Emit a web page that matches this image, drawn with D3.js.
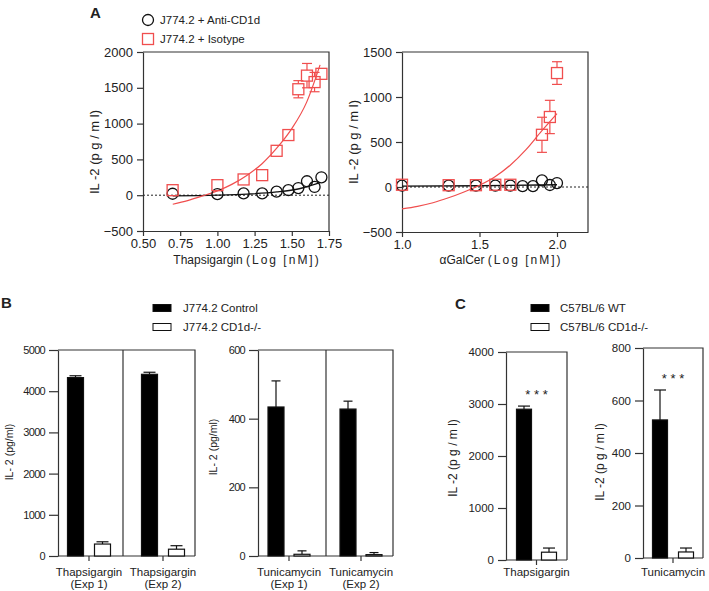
<!DOCTYPE html>
<html><head><meta charset="utf-8">
<script src="https://cdn.jsdelivr.net/npm/d3@7"></script>
<style>
body{margin:0;background:#fff;}
svg text{font-family: Arial, "Liberation Sans", Helvetica, sans-serif; fill:#222;}
</style></head><body>
<svg id="c" width="709" height="591"></svg>
<script>
// ---------- DATA ----------
// Panel A left: Thapsigargin (log nM)
const thapsLogDose     = [0.699, 1.000, 1.176, 1.301, 1.398, 1.477, 1.544, 1.602, 1.653, 1.699];
const thapsAntiCD1d    = [20, 15, 25, 25, 50, 70, 100, 195, 115, 250];
const thapsIsotype     = [70, 140, 220, 280, 620, 840, 1480, 1670, 1580, 1695];
const thapsIsotypeSem  = [0, 0, 0, 0, 60, 40, 120, 170, 135, 75];
const thapsIsoFitX     = [0.70, 0.80, 0.90, 1.00, 1.10, 1.20, 1.30, 1.40, 1.50, 1.60, 1.69];
const thapsIsoFitY     = [-126, -75, -10, 60, 155, 280, 440, 660, 930, 1300, 1820];
const thapsAntiFitX    = [0.70, 1.00, 1.20, 1.40, 1.55, 1.69];
const thapsAntiFitY    = [-10, 0, 15, 45, 90, 175];
const aLeftXTicks      = [0.50, 0.75, 1.00, 1.25, 1.50, 1.75];
const aLeftYTicks      = [-500, 0, 500, 1000, 1500, 2000];

// Panel A right: alphaGalCer (log nM)
const galLogDose       = [1.000, 1.301, 1.477, 1.602, 1.699, 1.778, 1.845, 1.903, 1.954, 2.000];
const galAntiCD1d      = [15, 15, 15, 15, 15, 10, 10, 74, 22, 44];
const galIsoLogDose    = [1.000, 1.301, 1.477, 1.602, 1.699, 1.903, 1.954, 2.000];
const galIsotype       = [25, 20, 20, 25, 25, 580, 778, 1266];
const galIsotypeSem    = [0, 0, 0, 0, 0, 195, 185, 126];
const galIsoFitX       = [1.0, 1.1, 1.2, 1.3, 1.4, 1.5, 1.6, 1.7, 1.8, 1.9, 2.0];
const galIsoFitY       = [-244, -215, -175, -120, -55, 20, 115, 245, 415, 620, 815];
const galAntiFitX      = [1.0, 1.5, 2.0];
const galAntiFitY      = [10, 14, 25];
const aRightXTicks     = [1.0, 1.5, 2.0];
const aRightYTicks     = [-500, 0, 500, 1000, 1500];

// Panel B
const bSeries          = ["J774.2 Control", "J774.2 CD1d-/-"];
const bThapsGroups     = ["Thapsigargin|(Exp 1)", "Thapsigargin|(Exp 2)"];
const bThapsControl    = [4330, 4410];
const bThapsControlErr = [45, 50];
const bThapsKO         = [290, 165];
const bThapsKOErr      = [55, 85];
const bThapsYTicks     = [0, 1000, 2000, 3000, 4000, 5000];
const bTuniGroups      = ["Tunicamycin|(Exp 1)", "Tunicamycin|(Exp 2)"];
const bTuniControl     = [434, 428];
const bTuniControlErr  = [76, 23];
const bTuniKO          = [5, 4];
const bTuniKOErr       = [10, 6];
const bTuniYTicks      = [0, 200, 400, 600];

// Panel C
const cSeries          = ["C57BL/6 WT", "C57BL/6 CD1d-/-"];
const cThapsGroups     = ["Thapsigargin"];
const cThapsWT         = [2900];
const cThapsWTErr      = [60];
const cThapsKO         = [150];
const cThapsKOErr      = [80];
const cThapsYTicks     = [0, 1000, 2000, 3000, 4000];
const cTuniGroups      = ["Tunicamycin"];
const cTuniWT          = [526];
const cTuniWTErr       = [114];
const cTuniKO          = [23];
const cTuniKOErr       = [15];
const cTuniYTicks      = [0, 200, 400, 600, 800];

// ---------- DRAWING ----------
const svg = d3.select("#c");
const RED = "#f04e4e";
const AX = "#333";

function styleAxis(g, fs) {
  g.selectAll(".domain").attr("stroke", AX).attr("stroke-width", 1.2);
  g.selectAll(".tick line").attr("stroke", AX).attr("stroke-width", 1.2);
  g.selectAll(".tick text").attr("font-size", fs).attr("fill", "#222")
    .attr("font-family", "Arial, 'Liberation Sans', sans-serif");
}

function scatterPanel(o) {
  const g = svg.append("g");
  const x = d3.scaleLinear().domain(o.xDomain).range([o.x0, o.x1]);
  const y = d3.scaleLinear().domain(o.yDomain).range([o.y1, o.y0]);
  g.append("path").attr("d", `M${o.x0},${o.y0}H${o.x1}V${o.y1}`)
    .attr("fill", "none").attr("stroke", AX).attr("stroke-width", 1.2);
  g.append("line").attr("x1", o.x0).attr("x2", o.x1).attr("y1", y(0)).attr("y2", y(0))
    .attr("stroke", "#222").attr("stroke-width", 1).attr("stroke-dasharray", "2,2");
  const ya = g.append("g").attr("transform", `translate(${o.x0},0)`)
    .call(d3.axisLeft(y).tickValues(o.yTicks).tickSize(6).tickPadding(4).tickSizeOuter(0).tickFormat(d3.format("d")));
  styleAxis(ya, 13);
  const xa = g.append("g").attr("transform", `translate(0,${o.y1})`)
    .call(d3.axisBottom(x).tickValues(o.xTicks).tickSize(5).tickPadding(3).tickSizeOuter(0).tickFormat(d3.format(o.xFmt)));
  styleAxis(xa, 13);

  const line = d3.line().x(d => x(d[0])).y(d => y(d[1])).curve(d3.curveMonotoneX);
  g.append("path").datum(d3.zip(o.antiFitX, o.antiFitY)).attr("d", line)
    .attr("fill", "none").attr("stroke", "#111").attr("stroke-width", 1.3);
  g.append("path").datum(d3.zip(o.isoFitX, o.isoFitY)).attr("d", line)
    .attr("fill", "none").attr("stroke", RED).attr("stroke-width", 1.2);

  g.selectAll("circle.anti").data(d3.zip(o.antiX, o.antiY)).join("circle")
    .attr("cx", d => x(d[0])).attr("cy", d => y(d[1])).attr("r", 5.5)
    .attr("fill", "none").attr("stroke", "#111").attr("stroke-width", 1.3);
  const h = 5.5;
  const iso = d3.zip(o.isoX, o.isoY, o.isoErr);
  iso.forEach(d => {
    const cx = x(d[0]), cy = y(d[1]);
    if (d[2] > 0) {
      const yt = y(d[1] + d[2]), yb = y(d[1] - d[2]);
      if (cy - h > yt) {
        g.append("line").attr("x1", cx).attr("x2", cx).attr("y1", yt).attr("y2", cy - h).attr("stroke", RED).attr("stroke-width", 1.2);
        g.append("line").attr("x1", cx - 5).attr("x2", cx + 5).attr("y1", yt).attr("y2", yt).attr("stroke", RED).attr("stroke-width", 1.2);
      }
      if (cy + h < yb) {
        g.append("line").attr("x1", cx).attr("x2", cx).attr("y1", cy + h).attr("y2", yb).attr("stroke", RED).attr("stroke-width", 1.2);
        g.append("line").attr("x1", cx - 5).attr("x2", cx + 5).attr("y1", yb).attr("y2", yb).attr("stroke", RED).attr("stroke-width", 1.2);
      }
    }
    g.append("rect").attr("x", cx - h).attr("y", cy - h).attr("width", 2 * h).attr("height", 2 * h)
      .attr("fill", "none").attr("stroke", RED).attr("stroke-width", 1.3);
  });

  g.append("text").attr("transform", `translate(${o.yTitleX},${o.yTitleY}) rotate(-90)`)
    .attr("text-anchor", "middle").attr("font-size", 13).text("IL -2 (p g / m l)");
  const xt = g.append("text").attr("x", o.xTitleX).attr("y", 264).attr("text-anchor", "middle").attr("font-size", 12);
  xt.append("tspan").text(o.xTitle + " ");
  xt.append("tspan").attr("letter-spacing", "2px").text("(Log [nM])");
}

scatterPanel({
  x0: 143, x1: 329, y0: 52, y1: 231,
  xDomain: [0.5, 1.75], yDomain: [-500, 2000],
  xTicks: aLeftXTicks, yTicks: aLeftYTicks, xFmt: ".2f",
  antiX: thapsLogDose, antiY: thapsAntiCD1d,
  isoX: thapsLogDose, isoY: thapsIsotype, isoErr: thapsIsotypeSem,
  isoFitX: thapsIsoFitX, isoFitY: thapsIsoFitY,
  antiFitX: thapsAntiFitX, antiFitY: thapsAntiFitY,
  yTitleX: 99, yTitleY: 152, xTitle: "Thapsigargin", xTitleX: 247
});

scatterPanel({
  x0: 402, x1: 588, y0: 52, y1: 232,
  xDomain: [1.0, 2.2], yDomain: [-500, 1500],
  xTicks: aRightXTicks, yTicks: aRightYTicks, xFmt: ".1f",
  antiX: galLogDose, antiY: galAntiCD1d,
  isoX: galIsoLogDose, isoY: galIsotype, isoErr: galIsotypeSem,
  isoFitX: galIsoFitX, isoFitY: galIsoFitY,
  antiFitX: galAntiFitX, antiFitY: galAntiFitY,
  yTitleX: 358, yTitleY: 142, xTitle: "\u03b1GalCer", xTitleX: 501
});

// Legend A
svg.append("circle").attr("cx", 148).attr("cy", 20).attr("r", 5.5).attr("fill", "none").attr("stroke", "#111").attr("stroke-width", 1.3);
svg.append("text").attr("x", 160).attr("y", 24).attr("font-size", 11.5).text("J774.2 + Anti-CD1d");
svg.append("rect").attr("x", 142.5).attr("y", 33.5).attr("width", 11).attr("height", 11).attr("fill", "none").attr("stroke", RED).attr("stroke-width", 1.3);
svg.append("text").attr("x", 160).attr("y", 43).attr("font-size", 11.5).text("J774.2 + Isotype");

// Panel letters
svg.append("text").attr("x", 90).attr("y", 18).attr("font-size", 15).attr("font-weight", "bold").text("A");
svg.append("text").attr("x", 1).attr("y", 308).attr("font-size", 15).attr("font-weight", "bold").text("B");
svg.append("text").attr("x", 455).attr("y", 309).attr("font-size", 15).attr("font-weight", "bold").text("C");

function barPanel(o) {
  const g = svg.append("g");
  const x = d3.scaleBand().domain(o.groups).range(o.bandRange);
  const y = d3.scaleLinear().domain([0, o.yMax]).range([o.y1, o.y0]);
  g.append("path").attr("d", `M${o.x0},${o.y0}H${o.x1}V${o.y1}`)
    .attr("fill", "none").attr("stroke", AX).attr("stroke-width", 1.2);
  if (o.dividerX) {
    g.append("line").attr("x1", o.dividerX).attr("x2", o.dividerX).attr("y1", o.y0).attr("y2", o.y1)
      .attr("stroke", AX).attr("stroke-width", 1.2);
  }
  const ya = g.append("g").attr("transform", `translate(${o.x0},0)`)
    .call(d3.axisLeft(y).tickValues(o.yTicks).tickSize(o.tickLen).tickPadding(4).tickSizeOuter(0).tickFormat(d3.format("d")));
  styleAxis(ya, o.tickFs);
  if (o.narrow) ya.selectAll(".tick text").attr("letter-spacing", "-0.7px");
  // bottom axis line across the box + ticks at group centres
  g.append("line").attr("x1", o.x0).attr("x2", o.x1).attr("y1", o.y1).attr("y2", o.y1)
    .attr("stroke", AX).attr("stroke-width", 1.2);
  const xa = g.append("g").attr("transform", `translate(0,${o.y1})`)
    .call(d3.axisBottom(x).tickSize(5).tickSizeOuter(0).tickFormat(""));
  xa.select(".domain").remove();
  styleAxis(xa, 11);

  const bw = o.barW;
  const bars = [
    {vals: o.ctrl, errs: o.ctrlErr, off: -o.off, fill: "#000"},
    {vals: o.ko, errs: o.koErr, off: o.off, fill: "#fff"}
  ];
  bars.forEach(s => {
    o.groups.forEach((gr, i) => {
      const cx = x(gr) + x.bandwidth() / 2 + s.off;
      const top = y(s.vals[i] + s.errs[i]);
      g.append("line").attr("x1", cx).attr("x2", cx).attr("y1", top).attr("y2", y(s.vals[i]))
        .attr("stroke", "#111").attr("stroke-width", 1.2);
      g.append("line").attr("x1", cx - o.capW / 2).attr("x2", cx + o.capW / 2).attr("y1", top).attr("y2", top)
        .attr("stroke", "#111").attr("stroke-width", 1.2);
      g.append("rect").attr("x", cx - bw / 2).attr("y", y(s.vals[i])).attr("width", bw)
        .attr("height", y(0) - y(s.vals[i]))
        .attr("fill", s.fill).attr("stroke", "#111").attr("stroke-width", 1.2);
    });
  });
  o.groups.forEach(gr => {
    const lines = gr.split("|");
    const t = g.append("text").attr("text-anchor", "middle").attr("font-size", 11.5);
    lines.forEach((ln, k) => {
      t.append("tspan").attr("x", x(gr) + x.bandwidth() / 2).attr("y", 576 + k * 12).text(ln);
    });
  });
  g.append("text").attr("transform", `translate(${o.yTitleX},${o.yTitleY}) rotate(-90)`)
    .attr("text-anchor", "middle").attr("font-size", o.yTitleFs).text(o.yTitle);
  if (o.stars) {
    g.append("text").attr("x", x(o.groups[0]) + x.bandwidth() / 2).attr("y", o.starY)
      .attr("text-anchor", "middle").attr("font-size", 13).attr("fill", "#555").text("* * *");
  }
  return g;
}

barPanel({
  x0: 58, x1: 195, y0: 350, y1: 556, yMax: 5000, yTicks: bThapsYTicks,
  bandRange: [52, 200], dividerX: 123,
  groups: bThapsGroups, ctrl: bThapsControl, ctrlErr: bThapsControlErr, ko: bThapsKO, koErr: bThapsKOErr,
  barW: 16, off: 13.5, capW: 12, tickLen: 9, tickFs: 11, narrow: true,
  yTitle: "IL- 2 (pg/ml)", yTitleX: 13, yTitleY: 452, yTitleFs: 10.5
});
barPanel({
  x0: 258, x1: 393, y0: 350, y1: 556, yMax: 600, yTicks: bTuniYTicks,
  bandRange: [253, 397], dividerX: 326,
  groups: bTuniGroups, ctrl: bTuniControl, ctrlErr: bTuniControlErr, ko: bTuniKO, koErr: bTuniKOErr,
  barW: 16, off: 13, capW: 9, tickLen: 9, tickFs: 11, narrow: true,
  yTitle: "IL- 2 (pg/ml)", yTitleX: 217, yTitleY: 447, yTitleFs: 10.5
});
barPanel({
  x0: 506, x1: 567, y0: 352, y1: 560, yMax: 4000, yTicks: cThapsYTicks,
  bandRange: [506, 567],
  groups: cThapsGroups, ctrl: cThapsWT, ctrlErr: cThapsWTErr, ko: cThapsKO, koErr: cThapsKOErr,
  barW: 15, off: 12.5, capW: 12, tickLen: 8, tickFs: 11.5, narrow: false,
  yTitle: "IL -2 (p g / m l)", yTitleX: 457, yTitleY: 458, yTitleFs: 12,
  stars: true, starY: 399
});
barPanel({
  x0: 643, x1: 703, y0: 348, y1: 558, yMax: 800, yTicks: cTuniYTicks,
  bandRange: [643, 703],
  groups: cTuniGroups, ctrl: cTuniWT, ctrlErr: cTuniWTErr, ko: cTuniKO, koErr: cTuniKOErr,
  barW: 15, off: 13, capW: 12, tickLen: 8, tickFs: 11.5, narrow: false,
  yTitle: "IL -2 (p g / m l)", yTitleX: 604, yTitleY: 462, yTitleFs: 12,
  stars: true, starY: 383
});

function barLegend(x, tx, names) {
  names.forEach((n, i) => {
    const cy = 308 + i * 19;
    svg.append("rect").attr("x", x).attr("y", cy - 3.5).attr("width", 18).attr("height", 7)
      .attr("fill", i === 0 ? "#000" : "#fff").attr("stroke", "#111").attr("stroke-width", 1);
    svg.append("text").attr("x", tx).attr("y", cy + 4).attr("font-size", 11.5).text(n);
  });
}
barLegend(153, 183, bSeries);
barLegend(531, 560, cSeries);
</script>
</body></html>
